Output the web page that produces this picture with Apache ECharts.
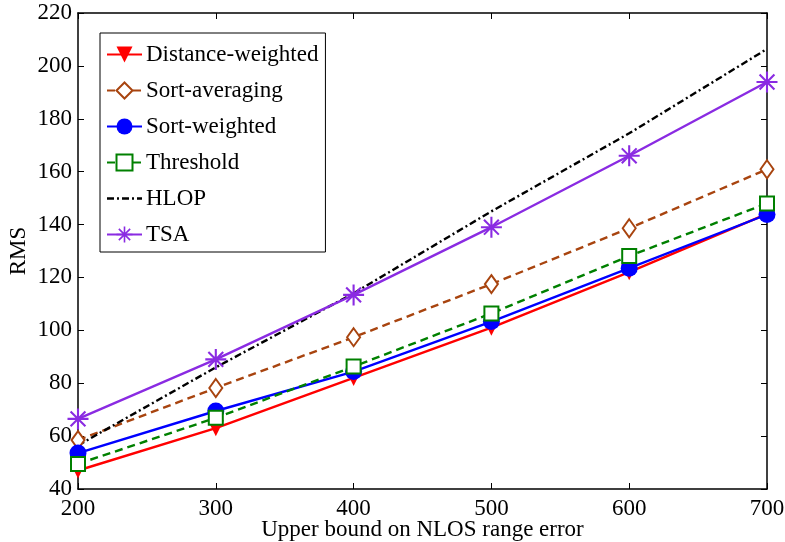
<!DOCTYPE html>
<html><head><meta charset="utf-8">
<script src="https://cdn.jsdelivr.net/npm/echarts@6/dist/echarts.min.js"></script>
<style>html,body{margin:0;padding:0;background:#fff}#c{width:785px;height:542px}</style>
</head><body><div id="c"></div>
<script>
var xValues = [200, 300, 400, 500, 600, 700];
var distanceWeighted = [47, 63, 82, 101, 122, 144];
var sortAveraging = [58.5, 78.2, 97.4, 117.5, 138.6, 160.9];
var sortWeighted = [53.6, 69.5, 84.4, 103.3, 123.5, 143.8];
var threshold = [49.5, 66.9, 86.3, 106.4, 128.1, 148];
var hlop = [56.5, 86, 114, 145, 174.5, 206.4];
var tsa = [66.5, 89, 113.4, 139, 166, 193.9];
var seriesNames = ['Distance-weighted', 'Sort-averaging', 'Sort-weighted', 'Threshold', 'HLOP', 'TSA'];

function pairs(arr){ return xValues.map(function(x,i){ return [x, arr[i]]; }); }
var FONT = 'Liberation Serif';
var asterisk = 'path://M0,45L100,45L100,55L0,55Z M55,0L55,100L45,100L45,0Z M18.18,11.10L88.90,81.82L81.82,88.90L11.10,18.18Z M88.90,18.18L18.18,88.90L11.10,81.82L81.82,11.10Z';
var dashDotIcon = 'path://M0,0L7,0L7,2.4L0,2.4Z M10,0L12,0L12,2.4L10,2.4Z M15,0L22,0L22,2.4L15,2.4Z M25,0L27,0L27,2.4L25,2.4Z M30,0L35,0L35,2.4L30,2.4Z';

var chart = echarts.init(document.getElementById('c'));
var axisCommon = {
  axisLine: {lineStyle: {color: '#000', width: 1.5}},
  axisTick: {inside: true, length: 6, lineStyle: {color: '#000', width: 1}},
  splitLine: {show: false}
};
chart.setOption({
  animation: false,
  backgroundColor: '#fff',
  grid: {left: 78, right: 18, top: 13, bottom: 53, containLabel: false, outerBoundsMode: 'none'},
  xAxis: [
    Object.assign({type: 'value', min: 200, max: 700, interval: 100, position: 'bottom',
      name: 'Upper bound on NLOS range error', nameLocation: 'middle', nameGap: 29, nameMoveOverlap: false,
      nameTextStyle: {fontFamily: FONT, fontSize: 23, color: '#000'},
      axisLabel: {fontFamily: FONT, fontSize: 23, color: '#000', margin: 8}}, axisCommon),
    Object.assign({type: 'value', min: 200, max: 700, interval: 100, position: 'top',
      axisLabel: {show: false}}, axisCommon)
  ],
  yAxis: [
    Object.assign({type: 'value', min: 40, max: 220, interval: 20, position: 'left',
      name: 'RMS', nameLocation: 'middle', nameGap: 48, nameRotate: 90, nameMoveOverlap: false,
      nameTextStyle: {fontFamily: FONT, fontSize: 23, color: '#000'},
      axisLabel: {fontFamily: FONT, fontSize: 23, color: '#000', margin: 6}}, axisCommon),
    Object.assign({type: 'value', min: 40, max: 220, interval: 20, position: 'right',
      axisLabel: {show: false}}, axisCommon)
  ],
  legend: {
    orient: 'vertical', left: 100, top: 33,
    backgroundColor: '#fff', borderColor: '#000', borderWidth: 1,
    padding: [10, 7, 6, 6],
    itemWidth: 35, itemHeight: 20, itemGap: 13,
    textStyle: {fontFamily: FONT, fontSize: 23, color: '#000', padding: [0,0,0,-1]},
    data: [seriesNames[0], seriesNames[1], seriesNames[2], seriesNames[3],
           {name: seriesNames[4], icon: dashDotIcon}, seriesNames[5]]
  },
  series: [
    {name: seriesNames[0], type: 'line', data: pairs(distanceWeighted),
     symbol: 'triangle', symbolRotate: 180, symbolSize: 16,
     itemStyle: {color: '#ff0000'}, lineStyle: {color: '#ff0000', width: 2.4}},
    {name: seriesNames[1], type: 'line', data: pairs(sortAveraging),
     symbol: 'emptyDiamond', symbolSize: [13, 18],
     itemStyle: {color: '#a8440f', borderWidth: 2}, lineStyle: {color: '#a8440f', width: 2.4, type: [8, 5]}},
    {name: seriesNames[2], type: 'line', data: pairs(sortWeighted),
     symbol: 'circle', symbolSize: 17,
     itemStyle: {color: '#0000ff'}, lineStyle: {color: '#0000ff', width: 2.4}},
    {name: seriesNames[3], type: 'line', data: pairs(threshold),
     symbol: 'emptyRect', symbolSize: 14,
     itemStyle: {color: '#008000', borderWidth: 2.2}, lineStyle: {color: '#008000', width: 2.4, type: [8, 5]}},
    {name: seriesNames[4], type: 'line', data: pairs(hlop),
     symbol: 'none', itemStyle: {color: '#000'},
     lineStyle: {color: '#000', width: 2.4, type: [7, 3, 2, 3]}},
    {name: seriesNames[5], type: 'line', data: pairs(tsa),
     symbol: asterisk, symbolSize: 21,
     itemStyle: {color: '#8a2be2'}, lineStyle: {color: '#8a2be2', width: 2.4}}
  ]
});
</script></body></html>
